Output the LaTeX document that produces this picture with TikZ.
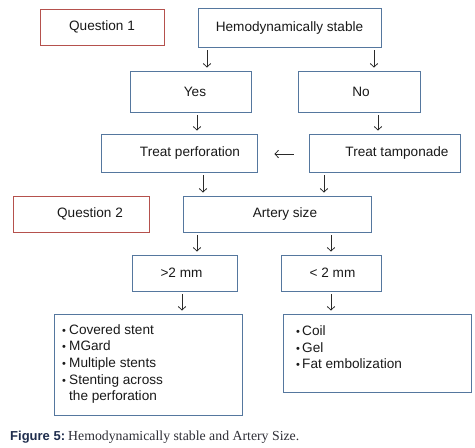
\documentclass[tikz,border=0pt]{standalone}
\usepackage{fontspec}
\setmainfont{Liberation Sans}
\newfontfamily\capserif{Liberation Serif}
\usetikzlibrary{arrows.meta}
\definecolor{boxblue}{HTML}{55779E}
\definecolor{boxred}{HTML}{B5514D}
\definecolor{arrgray}{HTML}{2A2A2A}
\definecolor{capblue}{HTML}{1F2D4D}
\definecolor{capgray}{HTML}{2E2E36}
\newcommand\bul{\makebox[7pt][l]{\fontsize{11}{11}\selectfont•}}
\newcommand\bulr{\makebox[6pt][l]{\fontsize{11}{11}\selectfont•}}
\begin{document}
\begin{tikzpicture}[x=1pt,y=-1pt,
  every node/.style={font=\fontsize{13.6}{16.6}\selectfont, text=black!90},
  box/.style={draw=boxblue, line width=0.9pt, rectangle, inner sep=0pt},
  qbox/.style={draw=boxred, line width=0.9pt, rectangle, inner sep=0pt},
  arr/.style={draw=arrgray, line width=0.8pt, -{Straight Barb[length=3.5pt,width=7.5pt]}, shorten <=3pt, shorten >=3pt}]
\useasboundingbox (0,0) rectangle (475,448);
% boxes
\node[qbox, minimum width=124pt, minimum height=36pt] (q1) at (102,27) {Question 1};
\node[box, minimum width=183pt, minimum height=39pt] (hs) at (289.5,27.5) {Hemodynamically stable};
\node[box, minimum width=121pt, minimum height=41pt, label={[xshift=4.5pt]center:Yes}] (yes) at (190.5,91.5) {};
\node[box, minimum width=122pt, minimum height=41pt, label={[xshift=2pt]center:No}] (no) at (359,91.5) {};
\node[box, minimum width=156pt, minimum height=38pt, label={[xshift=11pt]center:Treat perforation}] (tp) at (179,153) {};
\node[box, minimum width=151pt, minimum height=38pt, label={[xshift=12.5pt]center:Treat tamponade}] (tt) at (384.5,153) {};
\node[qbox, minimum width=136pt, minimum height=36pt, label={[xshift=9pt]center:Question 2}] (q2) at (81,214) {};
\node[box, minimum width=188pt, minimum height=36pt, label={[xshift=8pt]center:Artery size}] (as) at (277,214) {};
\node[box, minimum width=105pt, minimum height=36pt, label={[xshift=-3pt]center:>2 mm}] (gt) at (184.5,273) {};
\node[box, minimum width=100pt, minimum height=36pt, label={[xshift=1.5pt]center:< 2 mm}] (lt) at (331,273) {};
\node[box, minimum width=188pt, minimum height=101pt] (lb) at (148,364.5) {};
\node[box, minimum width=188pt, minimum height=78pt] (rb) at (377,353) {};
% list texts
\node[anchor=west, inner sep=0pt, align=left] (lbt) at (62,364) {\bul Covered stent\\\bul MGard\\\bul Multiple stents\\\bul Stenting across\\\hspace*{7pt}the perforation};
\node[anchor=west, inner sep=0pt, align=left] (rbt) at (296,347.5) {\bulr Coil\\\bulr Gel\\\bulr Fat embolization};
% arrow x positions
\coordinate (a1) at (207,0);
\coordinate (a2) at (374,0);
\coordinate (a3) at (197,0);
\coordinate (a4) at (378,0);
\coordinate (a5) at (203,0);
\coordinate (a6) at (324,0);
\coordinate (a7) at (197,0);
\coordinate (a8) at (331,0);
\coordinate (a9) at (182,0);
\coordinate (a10) at (331,0);
\coordinate (ah) at (0,154);
% arrows
\draw[arr] (hs.south -| a1) -- (yes.north -| a1);
\draw[arr] (hs.south -| a2) -- (no.north -| a2);
\draw[arr] (yes.south -| a3) -- (tp.north -| a3);
\draw[arr] (no.south -| a4) -- (tt.north -| a4);
\draw[arr, shorten <=15pt, shorten >=17pt] (tt.west |- ah) -- (tp.east |- ah);
\draw[arr] (tp.south -| a5) -- (as.north -| a5);
\draw[arr] (tt.south -| a6) -- (as.north -| a6);
\draw[arr] (as.south -| a7) -- (gt.north -| a7);
\draw[arr] (as.south -| a8) -- (lt.north -| a8);
\draw[arr] (gt.south -| a9) -- (lb.north -| a9);
\draw[arr] (lt.south -| a10) -- (rb.north -| a10);
% caption
\node[anchor=base west, inner sep=0pt, font=\fontsize{13}{15}\selectfont\bfseries, text=capblue] (capa) at (10,440) {Figure 5:};
\node[anchor=base west, inner sep=0pt, font=\fontsize{13.8}{16}\selectfont\capserif, text=capgray] (capb) at (68,440) {Hemodynamically stable and Artery Size.};
\end{tikzpicture}
\end{document}
